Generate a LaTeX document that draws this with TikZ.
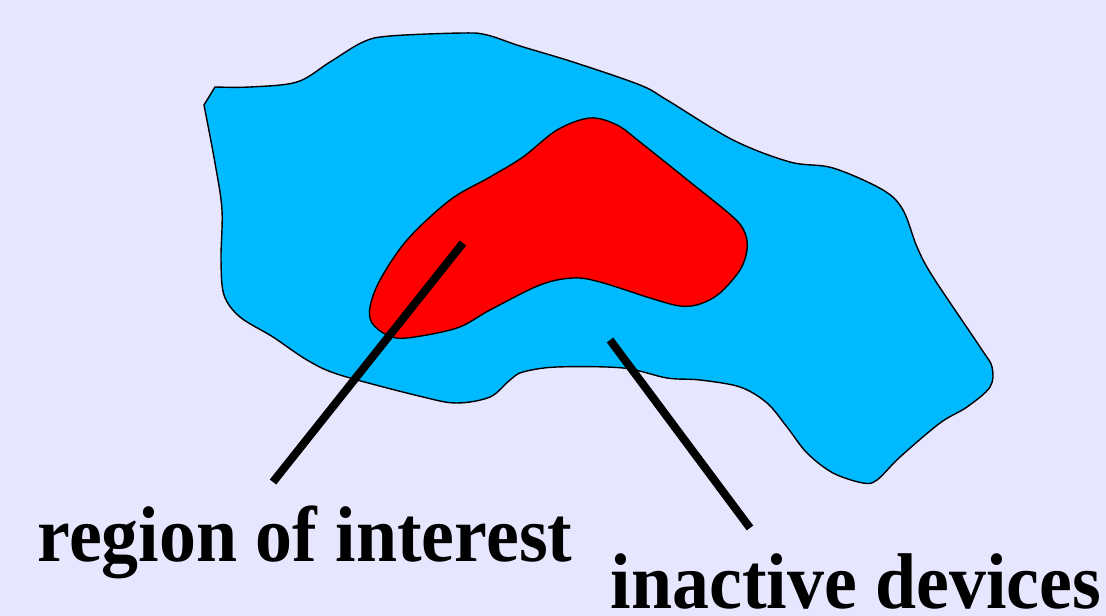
\documentclass[tikz,border=0pt]{standalone}
\usepackage{fontspec}
\setmainfont{Liberation Serif}
\usepackage{tikz}
\usetikzlibrary{positioning,calc}
\tikzset{
  blobln/.style={draw=black, line width=0.4pt, line join=round},
  pointer/.style={line width=2.3pt, black},
  caption/.style={font=\fontsize{21}{25}\selectfont\bfseries, inner sep=0pt,
    yscale=1.07, transform shape},
}
\definecolor{bgcolor}{RGB}{230,230,255}
\definecolor{netcolor}{RGB}{0,186,255}
\definecolor{roicolor}{RGB}{255,0,0}

\begin{document}
\begin{tikzpicture}[x=0.01cm, y=-0.01cm]
    % background
    \fill[bgcolor] (0,0) rectangle (1106,616);
    \useasboundingbox (0,0) rectangle (1106,616);
    % deployment area
    \filldraw[blobln, fill=netcolor] (204,105) plot[smooth, tension=0.55] coordinates {
      (204,105) (215,163) (222,210) (221,260) (224,295) (240,317) (273,337)
      (307,360) (340,375) (423,397) (457,403) (490,397) (510,380) (523,372)
      (557,367) (623,368) (667,378) (700,380) (740,387) (767,403) (787,427)
      (807,453) (833,473) (863,483) (877,480) (900,457) (940,423) (967,407)
      (990,387) (992,367) (980,347) (933,277) (917,247) (903,210) (883,190)
      (833,168) (790,162) (733,140) (667,100) (640,85) (573,62) (520,46)
      (487,35) (463,33) (390,36) (363,42) (330,62) (297,82) (250,87) (215,87)}
      -- cycle;
    % region of interest
    \filldraw[blobln, fill=roicolor] plot[smooth cycle, tension=0.55] coordinates {
      (590,118) (617,125) (640,142) (690,182) (733,217) (745,233) (747,250)
      (740,270) (720,293) (700,304) (680,306) (650,298) (600,282) (573,278)
      (540,285) (490,310) (457,328) (407,338) (387,335) (372,323) (370,307)
      (380,280) (407,240) (450,200) (490,177) (523,157) (557,130)};
    % labels
    \node[caption, anchor=base] (roi) at (305,562) {region of interest};
    \node[caption, anchor=base] (idle) at (856,609) {inactive devices};
    % pointers
    \coordinate (roi tip) at (463,243);
    \coordinate (roi foot) at (273,482);
    \coordinate (idle tip) at (610,340);
    \coordinate (idle foot) at (750,528);
    \draw[pointer] (roi tip) -- (roi foot);
    \draw[pointer] (idle tip) -- (idle foot);
\end{tikzpicture}
\end{document}
